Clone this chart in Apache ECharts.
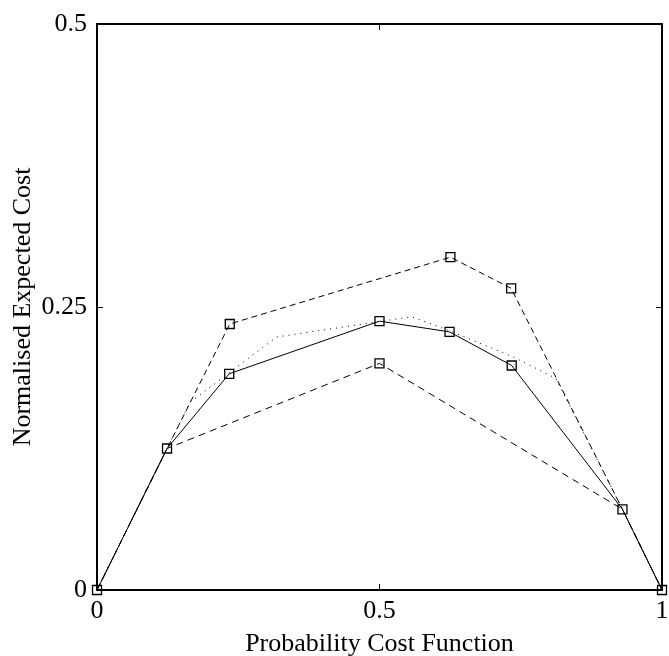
<!DOCTYPE html>
<html>
<head>
<meta charset="utf-8">
<script src="https://cdn.jsdelivr.net/npm/echarts@6/dist/echarts.min.js"></script>
<style>
  html, body { margin: 0; padding: 0; background: #fff; }
  #main { width: 669px; height: 656px; }
</style>
</head>
<body>
<div id="main"></div>
<script>
// x positions and normalised expected cost for each curve
var solidX = [0, 0.124, 0.234, 0.5, 0.624, 0.734, 0.93, 1];
var solidY = [0, 0.125, 0.191, 0.2375, 0.228, 0.1983, 0.0713, 0];

var upperX = [0, 0.124, 0.235, 0.6255, 0.733, 0.93, 1];
var upperY = [0, 0.125, 0.235, 0.294, 0.2665, 0.0713, 0];
var upperMarked = [false, false, true, true, true, false, false];

var lowerX = [0, 0.124, 0.5, 0.93, 1];
var lowerY = [0, 0.125, 0.2002, 0.0713, 0];
var lowerMarked = [false, false, true, false, false];

var dottedX = [0, 0.124, 0.165, 0.318, 0.557, 0.624, 0.736, 0.812, 0.93, 1];
var dottedY = [0, 0.125, 0.166, 0.2235, 0.2414, 0.229, 0.206, 0.187, 0.0713, 0];

var xTicks = [0, 0.5, 1];
var yTicks = [0, 0.25, 0.5];

var chart = echarts.init(document.getElementById('main'));

var font = 'Liberation Serif';
var markerStyle = { color: 'rgba(0,0,0,0)', borderColor: '#000', borderWidth: 1.3 };

function pairs(xs, ys) {
    return xs.map(function (x, i) { return [x, ys[i]]; });
}
function marked(xs, ys, flags) {
    return xs.map(function (x, i) {
        return { value: [x, ys[i]], symbol: flags[i] ? 'rect' : 'none' };
    });
}

var frameAxis = {
    axisLine: { show: true, onZero: false, lineStyle: { color: '#000', width: 2 } },
    axisTick: { show: true, inside: true, length: 6, lineStyle: { color: '#000', width: 1 } },
    splitLine: { show: false }
};

option = {
    animation: false,
    grid: { left: 97, right: 7, top: 24, bottom: 66, containLabel: false, outerBoundsMode: 'none' },
    xAxis: [
        Object.assign({
            type: 'value', min: 0, max: 1, interval: 0.5, position: 'bottom',
            name: 'Probability Cost Function', nameLocation: 'middle', nameGap: 41,
            nameMoveOverlap: false,
            nameTextStyle: { fontFamily: font, fontSize: 26, color: '#000' },
            axisLabel: {
                margin: 8, fontFamily: font, fontSize: 26, color: '#000',
                formatter: function (v) { return xTicks.indexOf(v) >= 0 ? String(v) : ''; }
            }
        }, frameAxis),
        Object.assign({
            type: 'value', min: 0, max: 1, interval: 0.5, position: 'top',
            axisLabel: { show: false }
        }, frameAxis)
    ],
    yAxis: [
        Object.assign({
            type: 'value', min: 0, max: 0.5, interval: 0.25, position: 'left',
            name: 'Normalised Expected Cost', nameLocation: 'middle', nameGap: 61,
            nameMoveOverlap: false,
            nameTextStyle: { fontFamily: font, fontSize: 26, color: '#000' },
            axisLabel: {
                margin: 10, fontFamily: font, fontSize: 26, color: '#000',
                formatter: function (v) { return yTicks.indexOf(v) >= 0 ? String(v) : ''; }
            }
        }, frameAxis),
        Object.assign({
            type: 'value', min: 0, max: 0.5, interval: 0.25, position: 'right',
            axisLabel: { show: false }
        }, frameAxis)
    ],
    series: [
        {
            type: 'line',
            data: pairs(dottedX, dottedY),
            symbol: 'none',
            lineStyle: { color: '#000', width: 1, type: [1, 5] },
            z: 2
        },
        {
            type: 'line',
            data: marked(lowerX, lowerY, lowerMarked),
            symbolSize: 9,
            itemStyle: markerStyle,
            lineStyle: { color: '#000', width: 1, type: [7, 5] },
            z: 3
        },
        {
            type: 'line',
            data: marked(upperX, upperY, upperMarked),
            symbolSize: 9,
            itemStyle: markerStyle,
            lineStyle: { color: '#000', width: 1, type: [6, 4] },
            z: 3
        },
        {
            type: 'line',
            data: pairs(solidX, solidY),
            symbol: 'rect',
            symbolSize: 9,
            itemStyle: markerStyle,
            lineStyle: { color: '#000', width: 1 },
            z: 4
        }
    ]
};

chart.setOption(option);
</script>
</body>
</html>
